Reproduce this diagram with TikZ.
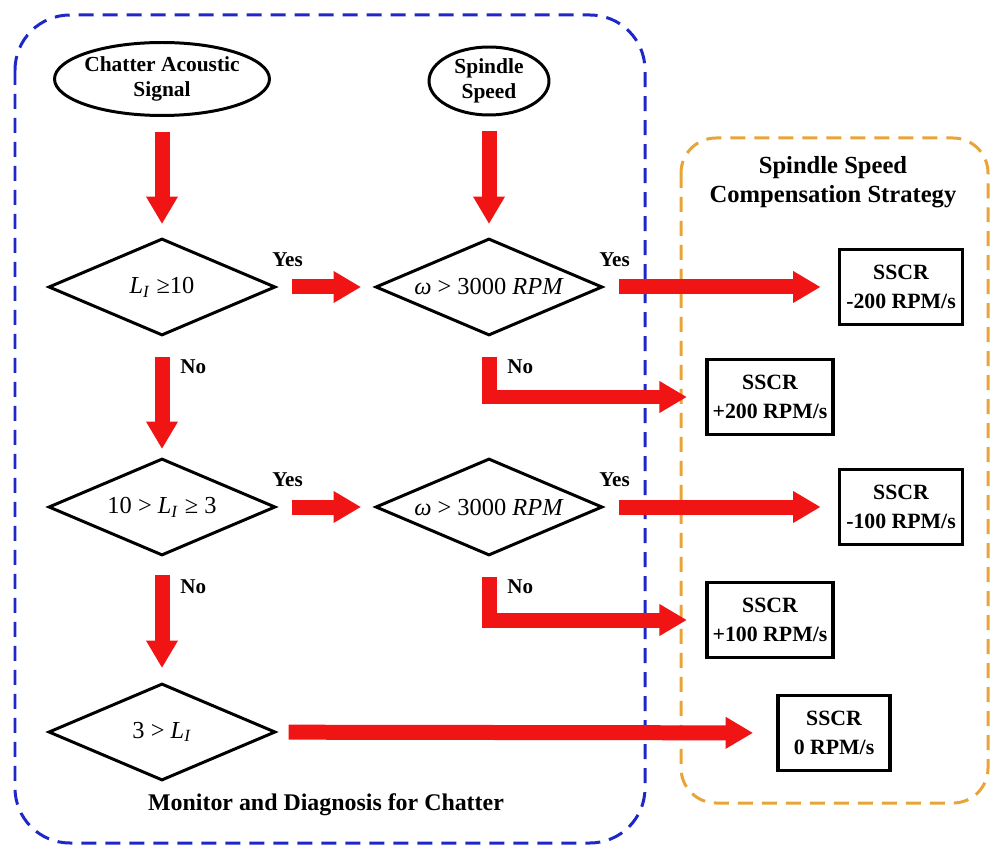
\documentclass[tikz,border=0pt]{standalone}
\usepackage{fontspec}
\setmainfont{Liberation Serif}
\usepackage{xcolor}
\usepackage{tikz}
\usetikzlibrary{arrows.meta, positioning, shapes.geometric}
\definecolor{flowred}{HTML}{F01414}
\definecolor{monblue}{HTML}{1E28C8}
\definecolor{comporange}{HTML}{E8A438}

\begin{document}
\begin{tikzpicture}[x=0.02cm, y=-0.02cm, font=\fontsize{12.2}{14.2}\selectfont\bfseries,
      src/.style={draw, ellipse, line width=1.7pt, inner sep=-1pt, align=center},
      test/.style={draw, diamond, aspect=2.34, line width=1.7pt, inner sep=0pt,
                   minimum width=4.54cm, minimum height=1.94cm,
                   font=\fontsize{13.9}{15}\selectfont\mdseries},
      rate/.style={draw, line width=2.2pt, minimum width=2.46cm, minimum height=1.5cm,
                   align=center, font=\fontsize{12.4}{16.5}\selectfont\bfseries},
      flow/.style={draw=flowred, line width=0.3cm, -{Triangle[width=0.6cm, length=0.55cm]},
                   shorten <=0.3cm, shorten >=0.26cm},
      lbl/.style={inner sep=0pt, font=\fontsize{12}{13}\selectfont\bfseries},
      zone/.style={line width=0.06cm, dash pattern=on 0.3cm off 0.18cm}]
    \useasboundingbox (0,0) rectangle (996,847);
    \draw[zone, monblue, rounded corners=1.1cm] (15,15) rectangle (645,843);
    \draw[zone, comporange, rounded corners=0.7cm] (681,138) rectangle (988,803);

    \node[src, minimum width=4.3cm, minimum height=1.46cm] (sig) at (162,79) {Chatter Acoustic\\Signal};
    \node[src, minimum width=2.4cm, minimum height=1.36cm] (spd) at (489,81) {Spindle\\Speed};
    \node[test] (d1) at (162,287) {\textit{L}\textsubscript{\textit{I}} ≥10};
    \node[test] (d2) at (489,287) {\textit{ω} > 3000 \textit{RPM}};
    \node[test] (d3) at (162,507) {10 > \textit{L}\textsubscript{\textit{I}} ≥ 3};
    \node[test] (d4) at (489,507) {\textit{ω} > 3000 \textit{RPM}};
    \node[test] (d5) at (162,732) {3 > \textit{L}\textsubscript{\textit{I}}};
    \node[rate] (m200) at (901,287) {SSCR\\-200 RPM/s};
    \node[rate] (p200) at (770,397) {SSCR\\+200 RPM/s};
    \node[rate] (m100) at (901,507) {SSCR\\-100 RPM/s};
    \node[rate] (p100) at (770,620) {SSCR\\+100 RPM/s};
    \node[rate, minimum width=2.24cm] (z0) at (834,733) {SSCR\\0 RPM/s};
    \node[font=\fontsize{14}{16.5}\selectfont\bfseries, align=center] (ssc) at (833,182)
      {Spindle Speed\\Compensation Strategy};
    \node[font=\fontsize{13.6}{15}\selectfont\bfseries] (mdc) at (326,805)
      {Monitor and Diagnosis for Chatter};

    \node[lbl, anchor=south west] (y1) at ([shift={(-5,-20)}]d1.east) {Yes};
    \node[lbl, anchor=south west] (y2) at ([shift={(-5,-20)}]d2.east) {Yes};
    \node[lbl, anchor=south west] (y3) at ([shift={(-5,-20)}]d3.east) {Yes};
    \node[lbl, anchor=south west] (y4) at ([shift={(-5,-20)}]d4.east) {Yes};
    \node[lbl, anchor=north west] (n1) at ([shift={(18,22)}]d1.south) {No};
    \node[lbl, anchor=north west] (n2) at ([shift={(18,22)}]d2.south) {No};
    \node[lbl, anchor=north west] (n3) at ([shift={(18,22)}]d3.south) {No};
    \node[lbl, anchor=north west] (n4) at ([shift={(18,22)}]d4.south) {No};

    \draw[flow, shorten <=0.3cm] (sig) -- (d1);
    \draw[flow, shorten <=0.3cm] (spd) -- (d2);
    \draw[flow] (d1) -- (d2);
    \draw[flow, shorten >=0.34cm] (d2) -- (m200);
    \draw[flow, shorten <=0.4cm, shorten >=0.36cm] (d2.south) |- (p200.west);
    \draw[flow, shorten <=0.4cm, shorten >=0.16cm] (d1) -- (d3);
    \draw[flow] (d3) -- (d4);
    \draw[flow, shorten >=0.34cm] (d4) -- (m100);
    \draw[flow, shorten <=0.4cm, shorten >=0.36cm] (d4.south) |- (p100.west);
    \draw[flow, shorten <=0.36cm, shorten >=0.28cm] (d3) -- (d5);
    \draw[flow, shorten <=0.24cm, shorten >=0.46cm] (d5) -- (z0);
  \end{tikzpicture}
\end{document}
